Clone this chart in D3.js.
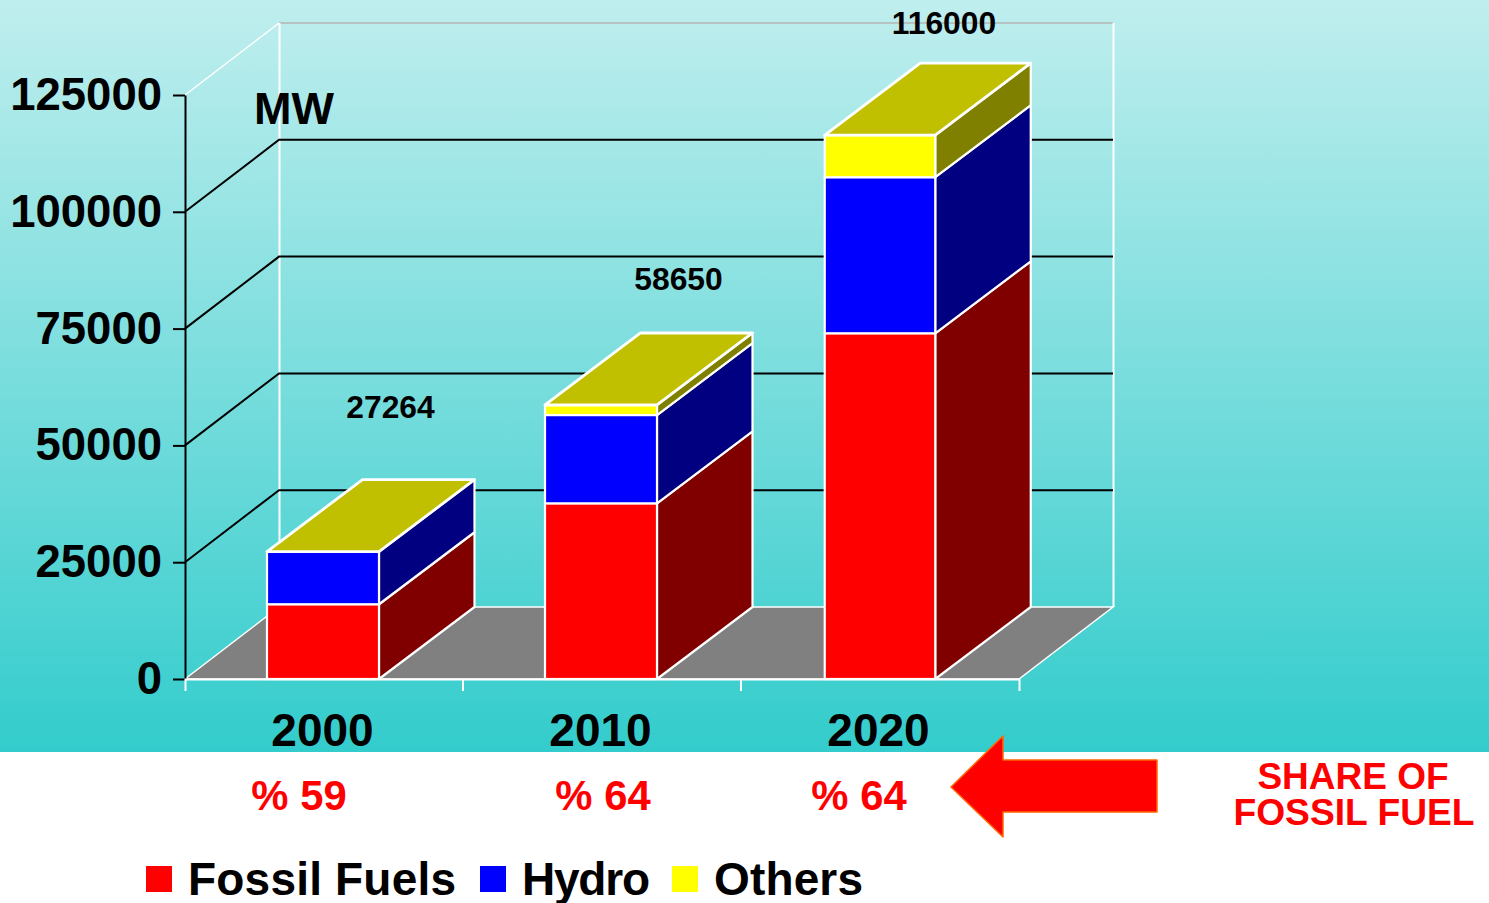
<!DOCTYPE html>
<html>
<head>
<meta charset="utf-8">
<script src="https://cdn.jsdelivr.net/npm/d3@7"></script>
<style>
html,body{margin:0;padding:0;background:#fff;overflow:hidden}
svg{display:block}
text{font-family:"Liberation Sans",Arial,sans-serif;font-weight:bold}
</style>
</head>
<body>
<svg id="c" width="1489" height="903"></svg>
<script>
const years = ["2000", "2010", "2020"];
const fossil = [16000, 37600, 74000];
const hydro = [11264, 18900, 33400];
const others = [0, 2150, 9000];
const totals = ["27264", "58650", "116000"];
const shares = ["% 59", "% 64", "% 64"];
const seriesNames = ["Fossil Fuels", "Hydro", "Others"];
const yTicks = [0, 25000, 50000, 75000, 100000, 125000];

const frontColors = ["#ff0000", "#0000ff", "#ffff00"];
const sideColors = ["#800000", "#000080", "#808000"];
const topColor = "#c0c000";
const depth = {x: 94, y: -72};
const barDepthX = 95.5;

const svg = d3.select("#c");
const defs = svg.append("defs");
const g = defs.append("linearGradient").attr("id", "bg").attr("x1", 0).attr("y1", 0).attr("x2", 0).attr("y2", 1);
g.append("stop").attr("offset", 0).attr("stop-color", "#c0eeee");
g.append("stop").attr("offset", 1).attr("stop-color", "#33cccc");
svg.append("rect").attr("width", 1489).attr("height", 752).attr("fill", "url(#bg)");

const x = d3.scaleBand().domain(years).range([185, 1019]);
const y = d3.scaleLinear().domain([0, 125000]).range([679, 95]);
const barW = [112, 112, 110.5];
const barCenter = [323, 601, 880];
const x0 = x.range()[0], x1 = x.range()[1];
const pts = a => a.map(p => p.join(",")).join(" ");

// floor
svg.append("polygon")
  .attr("points", pts([[x0, y(0)], [x0 + depth.x, y(0) + depth.y], [x1 + depth.x, y(0) + depth.y], [x1, y(0)]]))
  .attr("fill", "#808080").attr("stroke", "#fff").attr("stroke-width", 1.5);

// walls
const wallTop = y(125000);
svg.append("path")
  .attr("d", `M${x0},${wallTop}L${x0 + depth.x},${wallTop + depth.y}`)
  .attr("stroke", "#fff").attr("stroke-width", 1.5).attr("fill", "none");
svg.append("path")
  .attr("d", `M${x0 + depth.x},${wallTop + depth.y}H${x1 + depth.x}`)
  .attr("stroke", "#b4b4b4").attr("stroke-width", 1.5).attr("fill", "none");
svg.append("path")
  .attr("d", `M${x0 + depth.x + 0.5},${wallTop + depth.y}V${y(0) + depth.y}M${x1 + depth.x + 0.5},${wallTop + depth.y}V${y(0) + depth.y}`)
  .attr("stroke", "#fff").attr("stroke-width", 2).attr("fill", "none");

// gridlines
const gridVals = yTicks.filter(v => v > 0 && v < 125000);
svg.append("g").selectAll("path").data(gridVals).join("path")
  .attr("d", v => `M${x0},${y(v)}L${x0 + depth.x},${y(v) + depth.y}H${x1 + depth.x}`)
  .attr("stroke", "#000").attr("stroke-width", 2).attr("fill", "none");

// y axis
const yAxis = svg.append("g").attr("transform", `translate(${x0},0)`)
  .call(d3.axisLeft(y).tickValues(yTicks).tickFormat(d3.format("d")).tickSize(12).tickSizeOuter(0).tickPadding(11));
yAxis.selectAll("path,line").attr("stroke", "#000").attr("stroke-width", 2);
yAxis.selectAll("text").attr("font-size", 45.5).attr("fill", "#000");
yAxis.attr("font-family", null).attr("font-size", null);

// bars
years.forEach((yr, i) => {
  const left = barCenter[i] - barW[i] / 2, right = left + barW[i];
  const vals = [fossil[i], hydro[i], others[i]];
  let base = 0;
  vals.forEach((v, s) => {
    if (v <= 0) return;
    const yb = y(base), yt = y(base + v);
    svg.append("polygon")
      .attr("points", pts([[right, yb], [right + barDepthX, yb + depth.y], [right + barDepthX, yt + depth.y], [right, yt]]))
      .attr("fill", sideColors[s]).attr("stroke", "#fff").attr("stroke-width", 2.2).attr("stroke-linejoin", "round");
    svg.append("rect")
      .attr("x", left).attr("y", yt).attr("width", barW[i]).attr("height", yb - yt)
      .attr("fill", frontColors[s]).attr("stroke", "#fff").attr("stroke-width", 2.2);
    base += v;
  });
  const yt = y(base);
  svg.append("polygon")
    .attr("points", pts([[left, yt], [left + barDepthX, yt + depth.y], [right + barDepthX, yt + depth.y], [right, yt]]))
    .attr("fill", topColor).attr("stroke", "#fff").attr("stroke-width", 2.8).attr("stroke-linejoin", "round");
});

// x axis
const xAxis = svg.append("g").attr("transform", `translate(0,${y(0)})`)
  .call(d3.axisBottom(x).tickSize(0).tickSizeOuter(12).tickPadding(34));
xAxis.attr("font-family", null).attr("font-size", null);
xAxis.select(".domain").attr("stroke", "#fff").attr("stroke-width", 2).attr("fill", "none");
xAxis.selectAll("text").attr("font-size", 46).attr("fill", "#000").attr("x", -1.5);
svg.append("g").selectAll("line").data(years.slice(1)).join("line")
  .attr("x1", d => x(d)).attr("x2", d => x(d))
  .attr("y1", y(0)).attr("y2", y(0) + 12)
  .attr("stroke", "#fff").attr("stroke-width", 2);

// total labels
const totalPos = [[390.5, 418], [678.5, 290], [944, 34]];
svg.append("g").selectAll("text").data(totals).join("text")
  .attr("x", (d, i) => totalPos[i][0]).attr("y", (d, i) => totalPos[i][1])
  .attr("text-anchor", "middle").attr("font-size", 31.8).attr("fill", "#000").text(d => d);

svg.append("text").attr("x", 254).attr("y", 124).attr("font-size", 45).attr("fill", "#000").text("MW");

// shares
const shareX = [299, 603, 859];
svg.append("g").selectAll("text").data(shares).join("text")
  .attr("x", (d, i) => shareX[i]).attr("y", 809.5)
  .attr("text-anchor", "middle").attr("font-size", 41.8).attr("fill", "#ff0000").text(d => d);

// arrow
svg.append("polygon")
  .attr("points", pts([[951, 787], [1003, 736], [1003, 760], [1157, 760], [1157, 812], [1003, 812], [1003, 837]]))
  .attr("fill", "#ff0000").attr("stroke", "#ff6600").attr("stroke-width", 1.5).attr("stroke-linejoin", "round");

svg.append("text").attr("x", 1353).attr("y", 789).attr("text-anchor", "middle")
  .attr("font-size", 37).attr("fill", "#ff0000").text("SHARE OF");
svg.append("text").attr("x", 1354).attr("y", 825).attr("text-anchor", "middle")
  .attr("font-size", 37.2).attr("fill", "#ff0000").text("FOSSIL FUEL");

// legend
const legendX = [146, 480, 672];
const legendTextW = [268, 128, 149];
const legendG = svg.append("g").selectAll("g").data(seriesNames).join("g")
  .attr("transform", (d, i) => `translate(${legendX[i]},866)`);
legendG.append("rect").attr("width", 26).attr("height", 26).attr("fill", (d, i) => frontColors[i]);
legendG.append("text").attr("x", 42).attr("y", 29).attr("font-size", 46).attr("fill", "#000")
  .attr("textLength", (d, i) => legendTextW[i]).attr("lengthAdjust", "spacing").text(d => d);
</script>
</body>
</html>
